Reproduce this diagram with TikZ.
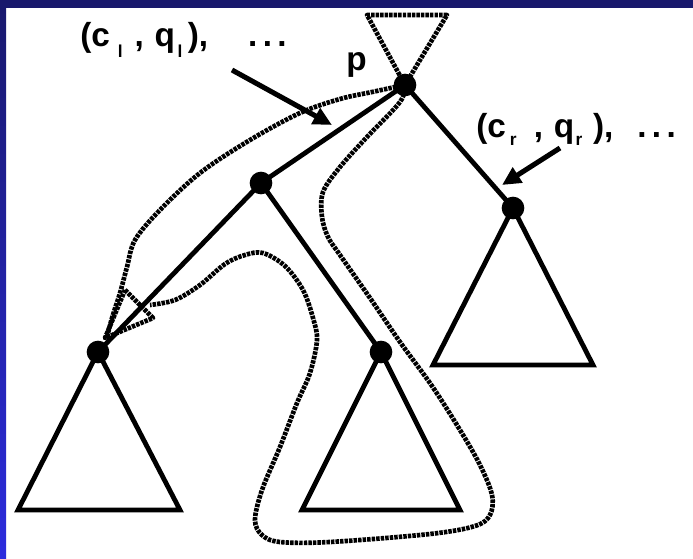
\documentclass[tikz,border=0pt]{standalone}
\usepackage{fontspec}
\setmainfont{Liberation Sans}
\usetikzlibrary{arrows.meta}
\definecolor{framenavy}{RGB}{24,24,108}
\definecolor{frameblue}{RGB}{44,44,222}
\newcommand{\dsub}[2]{\raisebox{-#1}{\fontsize{13}{13}\selectfont #2}}
\begin{document}
\begin{tikzpicture}[x=0.75pt,y=-0.75pt,
  edge/.style={line width=3.6pt, line join=miter},
  tour/.style={line width=3.5pt, dash pattern=on 2.6pt off 0.8pt, line join=round},
  vertex/.style={circle, fill=black, inner sep=0pt, minimum size=17pt},
  lab/.style={font=\fontsize{25}{28}\selectfont\bfseries, inner sep=0pt, anchor=base west},
  pointer/.style={line width=3.8pt, -{Triangle[length=14pt,width=13pt]}}]
\useasboundingbox (0,0) rectangle (693,559);
\fill[white] (0,0) rectangle (693,559);
\fill[framenavy] (0,0) rectangle (693,8);
\shade[top color=framenavy, bottom color=frameblue] (0,0) rectangle (6,559);

\node[vertex] (p) at (405,85) {};
\node[vertex] (a) at (261,183) {};
\node[vertex] (b) at (513,208) {};
\node[vertex] (c) at (98,352) {};
\node[vertex] (d) at (381,352) {};

\coordinate (c1) at (18,510);
\coordinate (c2) at (180,510);
\coordinate (d1) at (302,510);
\coordinate (d2) at (460,510);
\coordinate (b1) at (433,365);
\coordinate (b2) at (593,365);

\draw[edge] (p.center) -- (a.center);
\draw[edge] (p.center) -- (b.center);
\draw[edge] (a.center) -- (c.center);
\draw[edge] (a.center) -- (d.center);
\draw[edge] (c.center) -- (c1) -- (c2) -- cycle;
\draw[edge] (d.center) -- (d1) -- (d2) -- cycle;
\draw[edge] (b.center) -- (b1) -- (b2) -- cycle;

\draw[tour] (p.center) -- (447,15) -- (367,15) -- cycle;
\draw[tour] plot[smooth, tension=0.55] coordinates {(107,337) (112,318)
  (120,293) (127,267) (135,240) (160,210) (200,173) (250,140) (300,113)
  (340,99) (372,92) (400,86)};
\draw[tour] plot[smooth, tension=0.55] coordinates {(405,85) (400,102)
  (367,137) (340,167) (323,192) (322,217) (328,237) (340,255) (370,298)
  (400,342) (432,386) (460,430) (480,465) (492,495) (490,515) (475,526)
  (430,534) (330,542) (280,542) (262,535) (255,520) (262,490) (280,447)
  (297,403) (310,373) (317,340) (313,318) (303,290) (285,266) (263,253)
  (245,255) (225,264) (200,285) (175,300) (150,305)};
\draw[tour] (125,290) -- (153,318) -- (105,338) -- cycle;

\node[lab] (cl) at (80,47) {(c\kern6pt\dsub{8pt}{l}\kern9pt,\kern8pt
  q\kern2pt\dsub{8pt}{l}\kern4pt),\kern30pt.\kern4pt.\kern4pt.};
\node[lab] (cr) at (476,138) {(c\kern3pt\dsub{5.5pt}{r}\kern13pt,\kern8pt
  q\kern1pt\dsub{5.5pt}{r}\kern8pt),\kern18pt.\kern4pt.\kern4pt.};
\node[lab] (plab) at (346,71) {p};

\coordinate (ls) at (232,70);
\coordinate (lt) at (332,125);
\coordinate (rs) at (560,148);
\coordinate (rt) at (502,185);
\draw[pointer] (ls) -- (lt);
\draw[pointer] (rs) -- (rt);
\end{tikzpicture}
\end{document}
